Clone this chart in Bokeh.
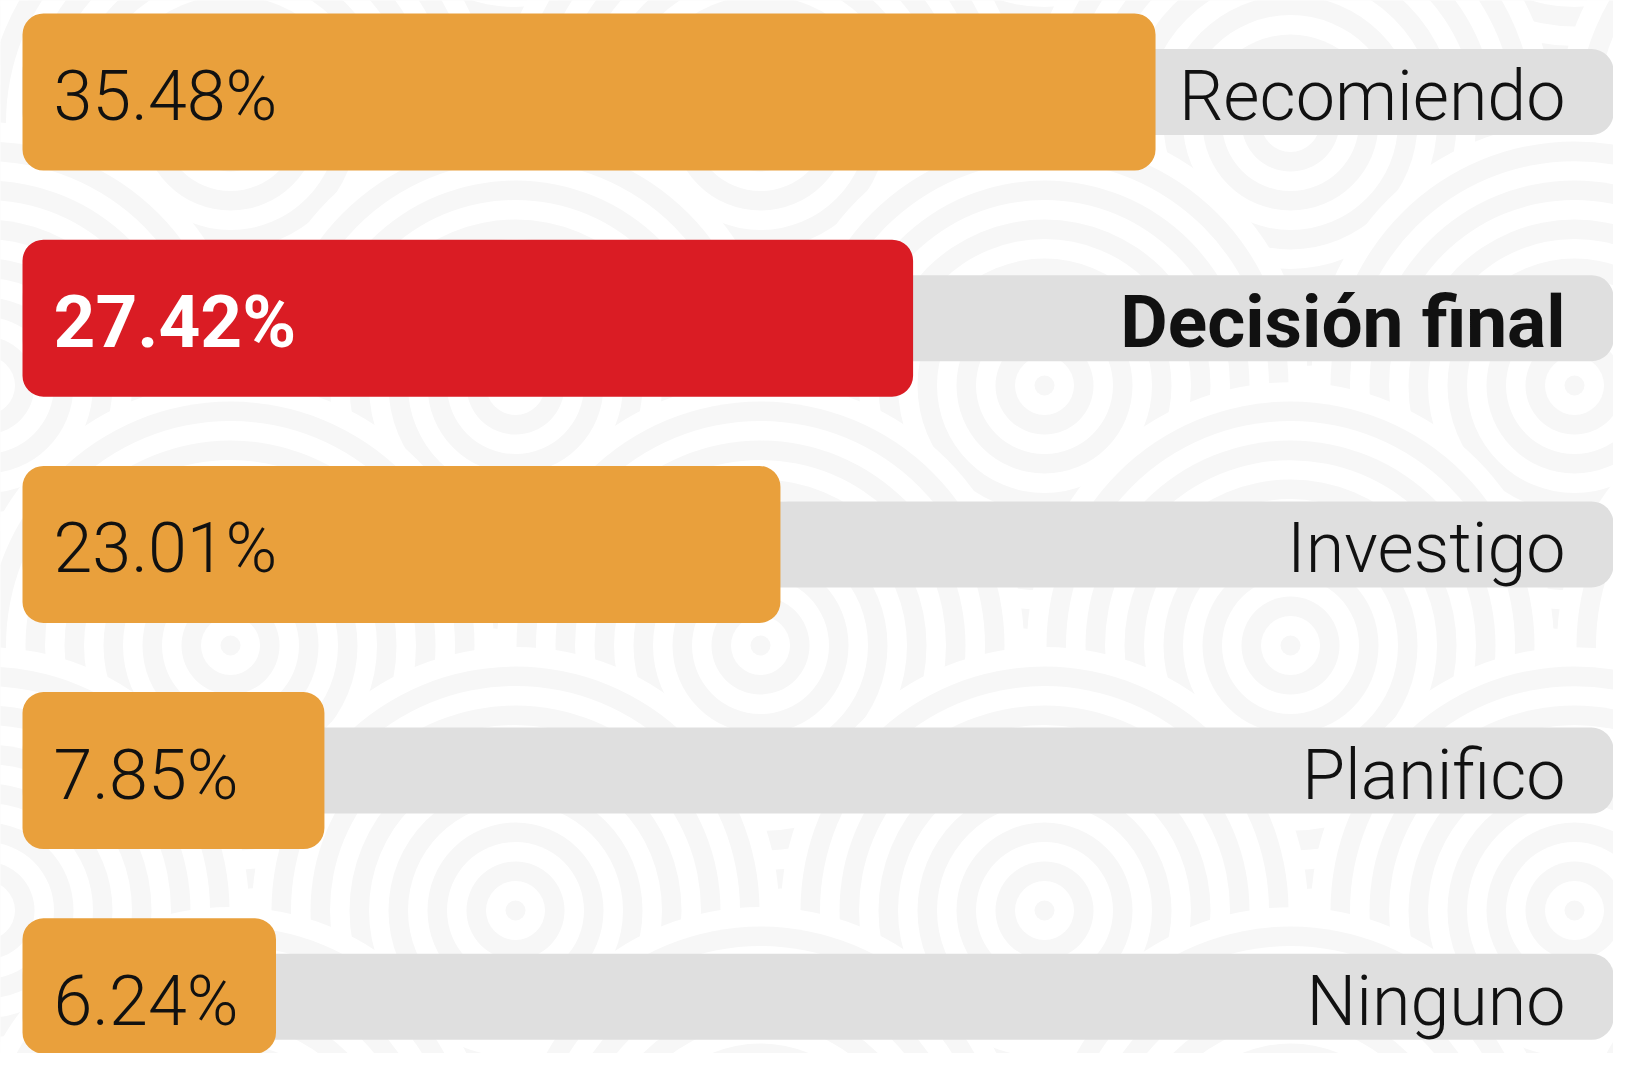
from bokeh.plotting import figure
from bokeh.models import Range1d, ColumnDataSource
from bokeh.core.properties import value
from bokeh.embed import file_html
from bokeh.resources import INLINE

# ---- data ----
categories = ["Recomiendo", "Decisión final", "Investigo", "Planifico", "Ninguno"]
values = [35.48, 27.42, 23.01, 7.85, 6.24]
highlight = [False, True, False, False, False]
value_labels = ["35.48%", "27.42%", "23.01%", "7.85%", "6.24%"]

# ---- layout constants (pixels) ----
W, H = 1613, 1053
PX_PER_UNIT = 30.08
ZERO_PX = 87.8
ROW_PX = 226.2
FIRST_PX = 91.5
BAR_H_PX = 157
TRACK_H_PX = 86
BAR_LEFT_PX = 22
TRACK_RIGHT_PX = 1628

def px_to_x(px):
    return (px - ZERO_PX) / PX_PER_UNIT

x_start, x_end = px_to_x(0), px_to_x(W)
y_top = -FIRST_PX / ROW_PX
y_bottom = (H - FIRST_PX) / ROW_PX

ORANGE = "#E9A03C"
RED = "#DA1C24"
TRACK = "#DFDFDF"
PATTERN = "#F7F7F7"

p = figure(width=W, height=H,
           x_range=Range1d(x_start, x_end), y_range=Range1d(y_bottom, y_top),
           output_backend="svg", toolbar_location=None,
           x_axis_location=None, y_axis_location=None,
           min_border=0, outline_line_color=None,
           background_fill_color="white", border_fill_color="white")
p.grid.visible = False

# ---- background pattern of overlapping concentric rings (pixel space) ----
p.extra_x_ranges = {"px": Range1d(0, W)}
p.extra_y_ranges = {"px": Range1d(H, 0)}
row_a_y = [122, 645, 1170]
row_a_x = [-300, 230, 760, 1290, 1820]
row_b_y = [-140, 385, 910]
row_b_x = [-15, 515, 1044, 1574]
rows = [(yy, row_a_x) for yy in row_a_y] + [(yy, row_b_x) for yy in row_b_y]
rows.sort(key=lambda r: r[0])
centers = [(xx, yy) for yy, xs in rows for xx in xs]

N_EDGES = 14
edges = [10 + 19.5 * k for k in range(N_EDGES)]
bx, by, bs, bc = [], [], [], []
for cx, cy in centers:
    for k in range(N_EDGES - 1, -1, -1):
        bx.append(cx); by.append(cy); bs.append(2 * edges[k])
        bc.append(PATTERN if k % 2 == 0 else "white")
bg = ColumnDataSource(dict(x=bx, y=by, size=bs, color=bc))
p.scatter("x", "y", size="size", marker="circle", fill_color="color", line_color=None,
          source=bg, x_range_name="px", y_range_name="px")

# ---- bars ----
idx = list(range(len(categories)))
src = ColumnDataSource(dict(
    y=idx,
    val=values,
    left=[px_to_x(BAR_LEFT_PX)] * len(idx),
    track_right=[px_to_x(TRACK_RIGHT_PX)] * len(idx),
    color=[RED if h else ORANGE for h in highlight],
    vlab=value_labels,
    cat=categories,
    vcolor=["white" if h else "#111111" for h in highlight],
    style=["bold" if h else "300" for h in highlight],
    fsize=["73px" if h else "70px" for h in highlight],
))

p.hbar(y="y", left="left", right="track_right", height=TRACK_H_PX / ROW_PX,
       fill_color=TRACK, line_color=None, border_radius=22, source=src)
p.hbar(y="y", left="left", right="val", height=BAR_H_PX / ROW_PX,
       fill_color="color", line_color=None, border_radius=21, source=src)

FONT = value("Roboto")
p.text(x="left", y="y", text="vlab", source=src, x_offset=31, y_offset=4,
       text_font=FONT, text_font_size="fsize", text_font_style="style",
       text_color="vcolor", text_align="left", text_baseline="alphabetic")
p.text(x="track_right", y="y", text="cat", source=src, x_offset=-63, y_offset=4,
       text_font=FONT, text_font_size="fsize", text_font_style="style",
       text_color="#111111", text_align="right", text_baseline="alphabetic")

open("out.html", "w").write(file_html(p, INLINE))
